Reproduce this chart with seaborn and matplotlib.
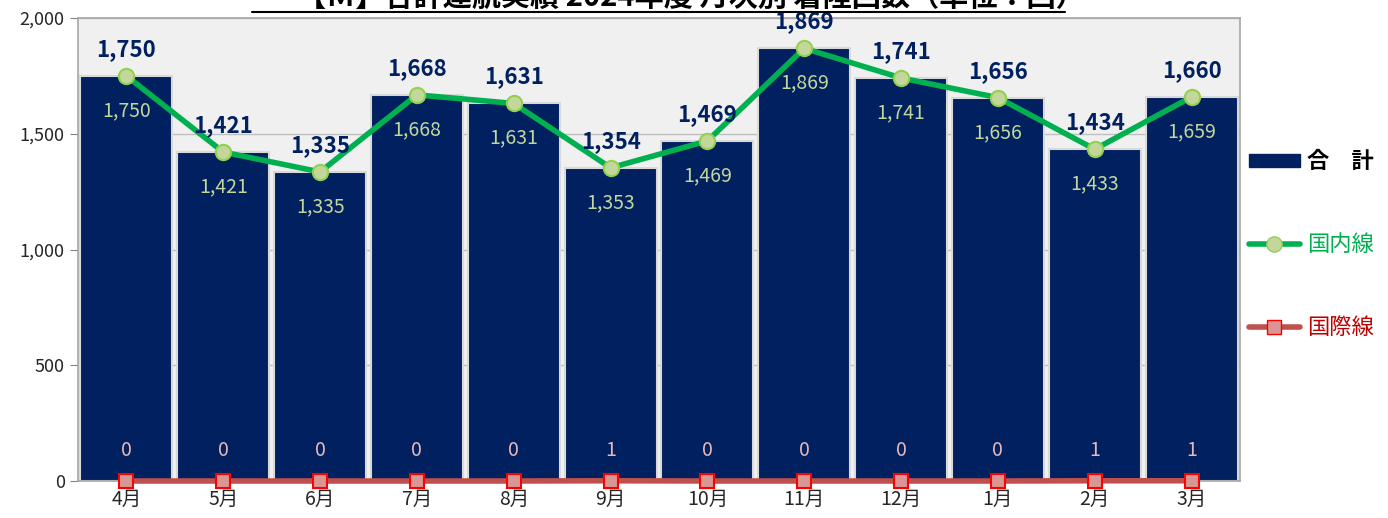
import numpy as np
import pandas as pd
import matplotlib
matplotlib.use('Agg')
import matplotlib.pyplot as plt
import seaborn as sns
from matplotlib.lines import Line2D
from matplotlib.patches import Patch

# データ
months = ['4月', '5月', '6月', '7月', '8月', '9月', '10月', '11月', '12月', '1月', '2月', '3月']
total = [1750, 1421, 1335, 1668, 1631, 1354, 1469, 1869, 1741, 1656, 1434, 1660]
domestic = [1750, 1421, 1335, 1668, 1631, 1353, 1469, 1869, 1741, 1656, 1433, 1659]
international = [0, 0, 0, 0, 0, 1, 0, 0, 0, 0, 1, 1]
title = '【Ｍ】合計運航実績 2024年度 月次別 着陸回数（単位：回）'

df = pd.DataFrame({'月': months, '合計': total, '国内線': domestic, '国際線': international})

sns.set_style('white')
plt.rcParams['font.family'] = ['Noto Sans CJK JP', 'DejaVu Sans']

navy = '#002060'
green = '#00b050'
red_line = '#c0504d'

fig = plt.figure(figsize=(13.88, 5.18), dpi=100)
ax = fig.add_axes([78 / 1388, 1 - 481 / 518, (1240 - 78) / 1388, (481 - 18) / 518])
ax.set_facecolor('#f0f0f0')

sns.barplot(data=df, x='月', y='合計', color=navy, width=0.95, saturation=1,
            edgecolor='#d9d9d9', linewidth=1.5, ax=ax, zorder=2)
sns.pointplot(data=df, x='月', y='国内線', color=green, markers='o', linestyles='-',
              linewidth=4, markersize=11, markerfacecolor='#c4d79b',
              markeredgecolor='#92d050', markeredgewidth=1.5, ax=ax, zorder=4)
sns.pointplot(data=df, x='月', y='国際線', color=red_line, markers='s', linestyles='-',
              linewidth=4, markersize=10, markerfacecolor='#d99694',
              markeredgecolor='#ff0000', markeredgewidth=1.5, ax=ax, zorder=4)
for ln in ax.lines:
    ln.set_clip_on(False)

# データラベル
for i, m in enumerate(months):
    ax.annotate(f'{total[i]:,}', (i, domestic[i]), xytext=(0, 19), textcoords='offset points',
                ha='center', va='center', fontsize=16, fontweight='bold', color=navy, zorder=5)
    ax.annotate(f'{domestic[i]:,}', (i, domestic[i]), xytext=(0, -25), textcoords='offset points',
                ha='center', va='center', fontsize=14, color='#c4d79b', zorder=5)
    ax.annotate(f'{international[i]:,}', (i, international[i]), xytext=(0, 22), textcoords='offset points',
                ha='center', va='center', fontsize=14, color='#e6b8b7', zorder=5)

ax.set_ylim(0, 2000)
ax.set_xlim(-0.5, 11.5)
ax.set_yticks([0, 500, 1000, 1500, 2000])
ax.set_yticklabels(['0', '500', '1,000', '1,500', '2,000'], fontsize=13)
ax.yaxis.grid(True, color='#bfbfbf', linewidth=1, zorder=0)
ax.set_axisbelow(True)
ax.set_xlabel('')
ax.set_ylabel('')
ax.tick_params(axis='x', which='major', length=0, labelsize=14, pad=6)
ax.set_xticks(np.arange(-0.5, 12, 1), minor=True)
ax.tick_params(axis='x', which='minor', length=6, color='#808080', direction='out')
ax.tick_params(axis='y', length=6, color='#808080', direction='out', left=True)
for s in ax.spines.values():
    s.set_color('#a6a6a6')
    s.set_linewidth(1.2)

handles = [Patch(facecolor=navy, edgecolor=navy),
           Line2D([0], [0], color=green, lw=4, marker='o', markersize=11,
                  markerfacecolor='#c4d79b', markeredgecolor='#92d050'),
           Line2D([0], [0], color=red_line, lw=4, marker='s', markersize=10,
                  markerfacecolor='#d99694', markeredgecolor='#ff0000')]
leg = ax.legend(handles, ['合\u3000計', '国内線', '国際線'], loc='center left',
                bbox_to_anchor=(1.0, 0.51), frameon=False, fontsize=16,
                labelspacing=2.7, handlelength=2.3, handleheight=0.5, handletextpad=0.3,
                borderaxespad=0.2, borderpad=0.2,
                labelcolor=['black', green, '#c00000'])
leg.get_texts()[0].set_fontweight('bold')

# タイトル（上部が切れている）
fig.text(0.5 - 3 / 1388, 1 - 6 / 518, title, ha='center', va='baseline',
         fontsize=21, fontweight='bold', color='black')
fig.add_artist(Line2D([252 / 1388, 1065 / 1388], [1 - 12 / 518, 1 - 12 / 518],
                      color='black', lw=1.5, transform=fig.transFigure))

fig.savefig('out.png', dpi=100)
